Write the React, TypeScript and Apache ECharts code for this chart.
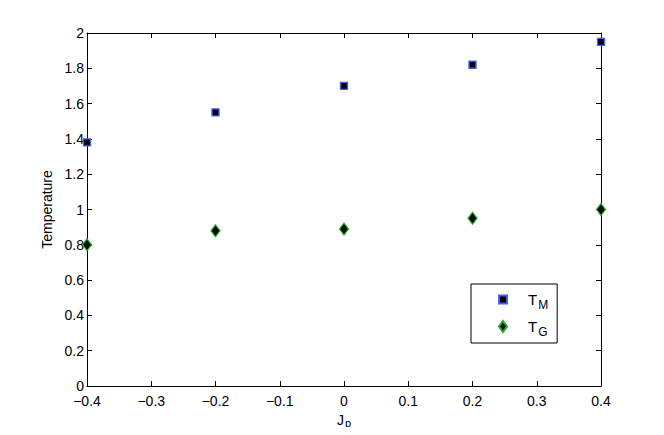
import React, { useEffect, useRef } from "react";
import * as echarts from "echarts";

const jp = [-0.4, -0.2, 0, 0.2, 0.4];
const tM = [1.38, 1.55, 1.7, 1.82, 1.95];
const tG = [0.8, 0.88, 0.89, 0.95, 1.0];
const xMin = -0.4;
const xMax = 0.4;
const xStep = 0.1;
const yMin = 0;
const yMax = 2;
const yStep = 0.2;

const FONT = "'Liberation Sans', Arial, Helvetica, sans-serif";

export default function App() {
  const ref = useRef<HTMLDivElement>(null);
  useEffect(() => {
    if (!ref.current) return;
    const chart = echarts.init(ref.current, undefined, { renderer: "svg" });
    const fmtX = (v: number) => {
      const r = Math.round(v * 10) / 10;
      return r < 0 ? "\u2212" + String(-r) : String(r);
    };
    const fmtY = (v: number) => String(Math.round(v * 10) / 10);
    const axisCommon = {
      axisLine: { show: true, onZero: false, lineStyle: { color: "#000", width: 1 } },
      axisTick: { show: true, inside: true, length: 5, lineStyle: { color: "#000", width: 1 } },
      splitLine: { show: false },
    };
    chart.setOption({
      animation: false,
      backgroundColor: "#fff",
      textStyle: { fontFamily: FONT },
      grid: { left: 87, right: 63, top: 33, bottom: 49, containLabel: false },
      xAxis: [
        {
          type: "value",
          position: "bottom",
          min: xMin,
          max: xMax,
          interval: xStep,
          ...axisCommon,
          axisLabel: { color: "#000", fontSize: 14, margin: 8, formatter: fmtX, fontFamily: FONT },
          name: "{a|J}{b|p}",
          nameLocation: "middle",
          nameGap: 21,
          nameTextStyle: {
            verticalAlign: "top",
            rich: {
              a: { fontSize: 14, color: "#000", fontFamily: FONT },
              b: { fontSize: 11, color: "#000", fontFamily: FONT, padding: [7, 0, 0, 1] },
            },
          },
        },
        {
          type: "value",
          position: "top",
          min: xMin,
          max: xMax,
          interval: xStep,
          ...axisCommon,
          axisLabel: { show: false },
        },
      ],
      yAxis: [
        {
          type: "value",
          position: "left",
          min: yMin,
          max: yMax,
          interval: yStep,
          ...axisCommon,
          axisLabel: { color: "#000", fontSize: 14, margin: 3, formatter: fmtY, fontFamily: FONT },
          name: "Temperature",
          nameLocation: "middle",
          nameGap: 33,
          nameTextStyle: { color: "#000", fontSize: 14, fontFamily: FONT },
        },
        {
          type: "value",
          position: "right",
          min: yMin,
          max: yMax,
          interval: yStep,
          ...axisCommon,
          axisLabel: { show: false },
        },
      ],
      legend: {
        left: 471,
        top: 284,
        orient: "vertical",
        backgroundColor: "#fff",
        borderColor: "#000",
        borderWidth: 1,
        borderRadius: 0,
        padding: [8, 9, 5, 27],
        itemGap: 8,
        itemWidth: 8,
        itemHeight: 11,
        symbolKeepAspect: true,
        data: [
          { name: "T_M", icon: "path://M0,0L10,0L10,10L0,10Z" },
          { name: "T_G", icon: "diamond" },
        ],
        formatter: (n: string) => {
          const sub = n.split("_")[1];
          return "{a|T}{b|" + sub + "}";
        },
        textStyle: {
          rich: {
            a: { fontSize: 15, color: "#000", fontFamily: FONT, padding: [0, 0, 0, 16] },
            b: { fontSize: 12, color: "#000", fontFamily: FONT, padding: [11, 0, 0, 1] },
          },
        },
      },
      series: [
        {
          name: "T_M",
          type: "scatter",
          data: jp.map((x, i) => [x, tM[i]]),
          symbol: "rect",
          symbolSize: 7,
          itemStyle: { color: "#000", borderColor: "#4b5cf2", borderWidth: 1.3, opacity: 1 },
          z: 5,
        },
        {
          name: "T_G",
          type: "scatter",
          data: jp.map((x, i) => [x, tG[i]]),
          symbol: "diamond",
          symbolSize: [9, 12],
          itemStyle: { color: "#000", borderColor: "#22b322", borderWidth: 1.2, opacity: 1 },
          z: 5,
        },
      ],
    });
    return () => chart.dispose();
  }, []);
  return <div ref={ref} style={{ width: 664, height: 435, margin: -8 }} />;
}
